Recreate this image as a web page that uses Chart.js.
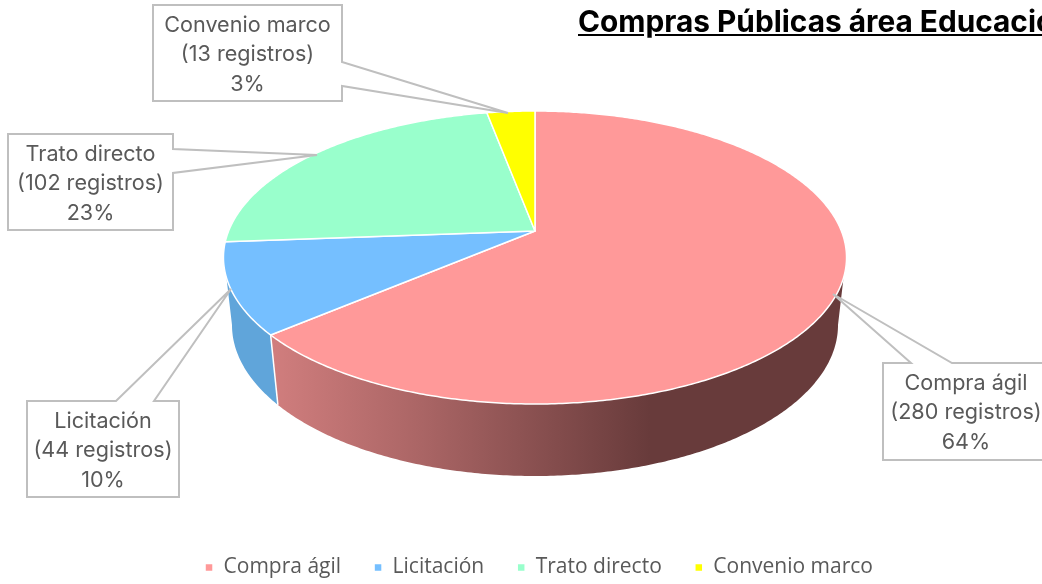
<!DOCTYPE html>
<html lang="es">
<head>
<meta charset="utf-8">
<title>Compras Públicas área Educación</title>
<script src="https://cdn.jsdelivr.net/npm/chart.js@4"></script>
<style>
    html, body { margin: 0; padding: 0; width: 1042px; height: 584px; overflow: hidden; background: #fff; }
    canvas { display: block; position: absolute; left: 0; top: 0; }
    #title {
        position: absolute; left: 578px; top: 3px; white-space: nowrap;
        font: bold 29.8px Inter, sans-serif; color: #000; text-decoration: underline;
    }
</style>
</head>
<body>
<canvas id="pie" width="1042" height="584"></canvas>
<div id="title">Compras Públicas área Educación</div>
<script>
const categories = ['Compra ágil', 'Licitación', 'Trato directo', 'Convenio marco'];
const registros = [280, 44, 102, 13];
const percentLabels = ['64%', '10%', '23%', '3%'];
const sliceColors = ['#FF9999', '#75BFFF', '#99FFCC', '#FFFF00'];

// callout boxes, same order as categories
const calloutBoxes = [
    { x: 883, y: 363, w: 166, h: 97, tip: [833, 294], side: 'top', a: 911, b: 952 },
    { x: 27, y: 401, w: 152, h: 96, tip: [231, 289], side: 'top', a: 116, b: 154 },
    { x: 8, y: 134, w: 165, h: 96, tip: [317, 155], side: 'right', a: 149, b: 173 },
    { x: 153, y: 5, w: 189, h: 96, tip: [508, 113], side: 'right', a: 62, b: 86 }
];

// perspective of the tilted disc, as ratios of the arc radius
const PIE_SHIFT_X = -4; // legend centre sits a bit right of the pie
const APEX_Y = 231;
const TILT = 0.1809;
const TOP_SQUASH = 0.3261;
const BOTTOM_SCALE = 0.9726;
const BOTTOM_APEX_Y = 297.7;
const BOTTOM_SQUASH = 0.3009;

function rimPoint(arc, theta, bottom) {
    const u = Math.sin(theta), v = Math.cos(theta);
    const den = 1 + TILT * v;
    const R = arc.outerRadius;
    const cx = arc.x + PIE_SHIFT_X;
    if (bottom) {
        return [cx + R * BOTTOM_SCALE * u / den, (BOTTOM_APEX_Y - R * BOTTOM_SQUASH * v) / den];
    }
    return [cx + R * u / den, (APEX_Y - R * TOP_SQUASH * v) / den];
}

function traceRim(ctx, arc, from, to, bottom) {
    const steps = Math.max(2, Math.ceil(Math.abs(to - from) / 0.01));
    for (let i = 0; i <= steps; i++) {
        const p = rimPoint(arc, from + (to - from) * i / steps, bottom);
        ctx.lineTo(p[0], p[1]);
    }
}

const deg = Math.PI / 180;

const pie3d = {
    id: 'pie3d',
    beforeDatasetDraw(chart, args) {
        const ctx = chart.ctx;
        const arcs = args.meta.data;
        const angle = (a) => a + Math.PI / 2;
        const first = arcs[0], second = arcs[1];
        const split = angle(first.endAngle);
        const splitEnd = angle(second.endAngle);

        ctx.save();
        // side wall of Compra ágil
        const shade = ctx.createLinearGradient(270, 0, 650, 0);
        shade.addColorStop(0, '#D17E7E');
        shade.addColorStop(0.4, '#AA6565');
        shade.addColorStop(1, '#683B3B');
        ctx.beginPath();
        traceRim(ctx, first, 108.2 * deg, split, false);
        traceRim(ctx, first, split, 100.4 * deg, true);
        ctx.closePath();
        ctx.fillStyle = shade;
        ctx.fill();

        // side wall of Licitación
        ctx.beginPath();
        traceRim(ctx, second, split, Math.min(splitEnd, 251.8 * deg), false);
        traceRim(ctx, second, 259.6 * deg, split, true);
        ctx.closePath();
        ctx.fillStyle = '#60A5DA';
        ctx.fill();

        // divider between the two walls
        const p1 = rimPoint(first, split, false), p2 = rimPoint(first, split, true);
        ctx.beginPath();
        ctx.moveTo(p1[0], p1[1]);
        ctx.lineTo(p2[0], p2[1]);
        ctx.strokeStyle = '#fff';
        ctx.lineWidth = 1.5;
        ctx.stroke();

        // top face, slices come from the library's own arc angles
        arcs.forEach((arc) => {
            ctx.beginPath();
            ctx.moveTo(arc.x + PIE_SHIFT_X, APEX_Y);
            traceRim(ctx, arc, angle(arc.startAngle), angle(arc.endAngle), false);
            ctx.closePath();
            ctx.fillStyle = arc.options.backgroundColor;
            ctx.fill();
            ctx.strokeStyle = arc.options.borderColor;
            ctx.lineWidth = arc.options.borderWidth;
            ctx.lineJoin = 'round';
            ctx.stroke();
        });
        ctx.restore();
        return false;
    }
};

const callouts = {
    id: 'callouts',
    afterDraw(chart) {
        const ctx = chart.ctx;
        ctx.save();
        ctx.lineWidth = 2;
        ctx.strokeStyle = '#BFBFBF';
        ctx.fillStyle = '#fff';
        calloutBoxes.forEach((box, i) => {
            const right = box.x + box.w, bottom = box.y + box.h;
            ctx.beginPath();
            ctx.moveTo(box.x, box.y);
            if (box.side === 'top') {
                ctx.lineTo(box.a, box.y);
                ctx.lineTo(box.tip[0], box.tip[1]);
                ctx.lineTo(box.b, box.y);
            }
            ctx.lineTo(right, box.y);
            if (box.side === 'right') {
                ctx.lineTo(right, box.a);
                ctx.lineTo(box.tip[0], box.tip[1]);
                ctx.lineTo(right, box.b);
            }
            ctx.lineTo(right, bottom);
            ctx.lineTo(box.x, bottom);
            ctx.closePath();
            ctx.fill();
            ctx.stroke();

            const lines = [categories[i], '(' + registros[i] + ' registros)', percentLabels[i]];
            ctx.save();
            ctx.fillStyle = '#595959';
            ctx.font = '21.6px Inter, sans-serif';
            ctx.textAlign = 'center';
            ctx.textBaseline = 'middle';
            lines.forEach((line, n) => {
                ctx.fillText(line, box.x + box.w / 2, box.y + 20 + n * 29.5);
            });
            ctx.restore();
        });
        ctx.restore();
    }
};

new Chart(document.getElementById('pie'), {
    type: 'pie',
    data: {
        labels: categories,
        datasets: [{
            data: registros,
            backgroundColor: sliceColors,
            borderColor: '#fff',
            borderWidth: 1.5
        }]
    },
    plugins: [pie3d, callouts],
    options: {
        responsive: false,
        animation: false,
        radius: 306.4,
        layout: { padding: { left: 36, bottom: -4 } },
        plugins: {
            tooltip: { enabled: false },
            legend: {
                position: 'bottom',
                labels: {
                    boxWidth: 8,
                    boxHeight: 8,
                    padding: 33,
                    color: '#595959',
                    font: { family: '"Open Sans", sans-serif', size: 21 }
                }
            }
        }
    }
});
</script>
</body>
</html>
